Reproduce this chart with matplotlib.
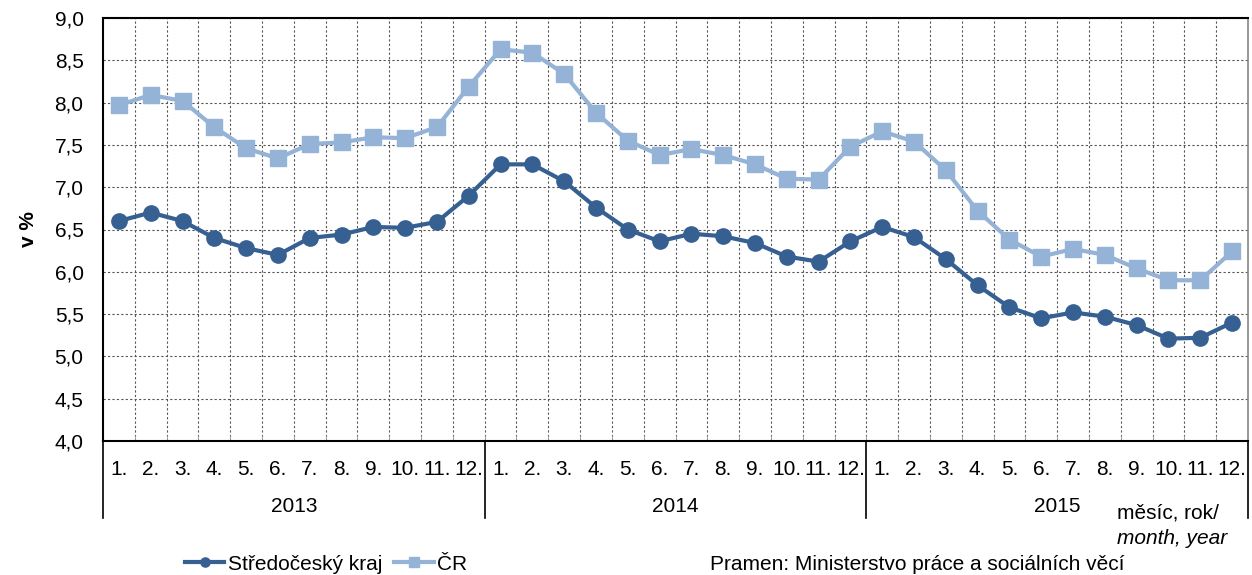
import matplotlib
matplotlib.use('Agg')
import matplotlib.pyplot as plt
from matplotlib.lines import Line2D
import matplotlib.transforms as mtransforms

plt.rcParams['font.family'] = ['Liberation Sans', 'DejaVu Sans']

years = ['2013', '2014', '2015']
months = [f'{m}.' for m in range(1, 13)]
stredocesky = [6.60, 6.70, 6.60, 6.40, 6.28, 6.20, 6.40, 6.44, 6.53, 6.52, 6.59, 6.90,
               7.27, 7.27, 7.07, 6.76, 6.50, 6.36, 6.45, 6.42, 6.34, 6.18, 6.12, 6.36,
               6.53, 6.41, 6.15, 5.84, 5.58, 5.45, 5.52, 5.47, 5.37, 5.21, 5.22, 5.40]
cr = [7.97, 8.09, 8.02, 7.71, 7.46, 7.34, 7.51, 7.53, 7.59, 7.58, 7.71, 8.19,
      8.63, 8.59, 8.34, 7.88, 7.55, 7.38, 7.45, 7.38, 7.27, 7.10, 7.09, 7.48,
      7.66, 7.54, 7.20, 6.72, 6.38, 6.18, 6.27, 6.20, 6.04, 5.90, 5.90, 6.24]

dark = '#366092'
light = '#95b3d7'
fs = 15

fig = plt.figure(figsize=(12.52, 5.75), dpi=100)
ax = fig.add_axes([103 / 1252, 1 - 441 / 575, 1145 / 1252, 423 / 575])

x = list(range(len(stredocesky)))
ax.plot(x, stredocesky, color=dark, lw=3, marker='o', ms=11, label='Středočeský kraj', zorder=4)
ax.plot(x, cr, color=light, lw=3, marker='s', ms=12, label='ČR', zorder=3)

ax.set_xlim(-0.5, len(x) - 0.5)
ax.set_ylim(4, 9)
yt = [4 + 0.5 * i for i in range(11)]
ax.set_yticks(yt)
ax.set_yticklabels([f'{v:.1f}'.replace('.', ',') for v in yt], fontsize=fs)
ax.tick_params(axis='y', length=0, pad=14)

ax.set_xticks(x)
ax.set_xticklabels(months * len(years), fontsize=fs)
ax.tick_params(axis='x', which='major', length=0, pad=14)
ax.set_xticks([i + 0.5 for i in range(len(x) - 1)], minor=True)
ax.tick_params(axis='x', which='minor', direction='in', length=4, color='#999999')

ax.grid(True, axis='y', which='major', color='#555555', ls=(0, (2, 2)), lw=0.8)
ax.grid(True, axis='x', which='minor', color='#555555', ls=(0, (2, 2)), lw=0.8)
ax.set_axisbelow(True)

for s in ['left', 'bottom', 'top']:
    ax.spines[s].set_color('black')
    ax.spines[s].set_linewidth(1.5)
ax.spines['right'].set_color('#888888')
ax.spines['right'].set_linewidth(1.2)

ax.set_ylabel('v %', fontsize=fs, fontweight='bold', labelpad=12)

trans = mtransforms.blended_transform_factory(ax.transData, ax.transAxes)
for b in [-0.5, 11.5, 23.5, 35.5]:
    ax.add_line(Line2D([b, b], [0, -0.182], transform=trans, color='black', lw=1.2, clip_on=False))
for i, yr in enumerate(years):
    ax.text(i * 12 + 5.5, -0.155, yr, transform=trans, ha='center', va='center', fontsize=fs)

fig.text(1117 / 1252, 1 - 513 / 575, 'měsíc, rok/', fontsize=fs, ha='left', va='center')
fig.text(1117 / 1252, 1 - 538 / 575, 'month, year', fontsize=fs, ha='left', va='center', style='italic')

fig.legend(loc='center', bbox_to_anchor=(326 / 1252, 1 - 564 / 575), ncol=2, frameon=False,
           fontsize=fs, handlelength=1.9, columnspacing=0.6, handletextpad=0.15, markerscale=0.6,
           borderaxespad=0, borderpad=0)
fig.text(710 / 1252, 1 - 565 / 575, 'Pramen: Ministerstvo práce a sociálních věcí', fontsize=fs,
         ha='left', va='center')

fig.savefig('out.png', dpi=100)
